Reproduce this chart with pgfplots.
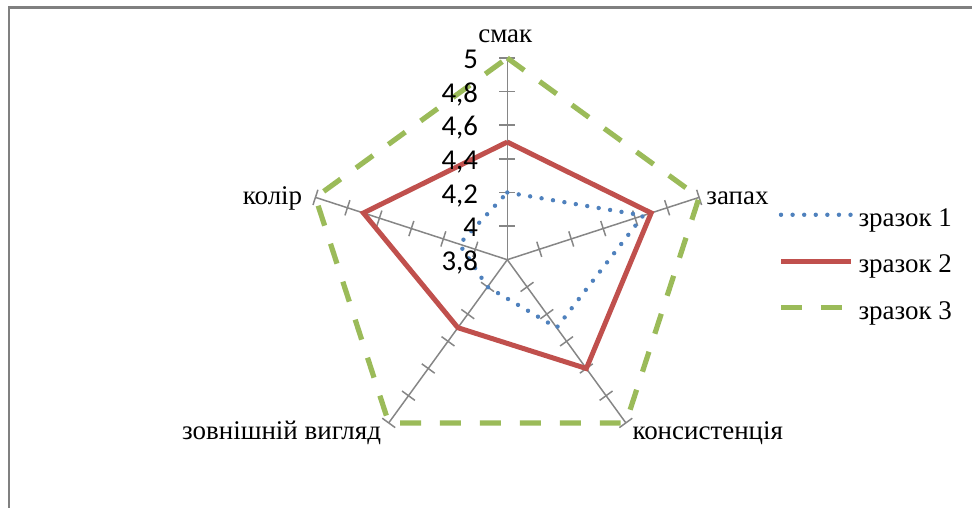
\documentclass[border=0pt]{standalone}
\usepackage{fontspec}
\setmainfont{Liberation Serif}
\newfontfamily\calibri{Carlito}
\usepackage{pgfplots}
\pgfplotsset{compat=1.18}
\usepackage{pgfplotstable}

\definecolor{s1}{HTML}{4F81BD}
\definecolor{s2}{HTML}{C0504D}
\definecolor{s3}{HTML}{9BBB59}
\definecolor{spoke}{HTML}{868686}
\definecolor{frame}{HTML}{808080}

% a = direction of the spoke (deg), v = score
\pgfplotstableread{
a v
90 4.2
18 4.65
-54 4.3
-126 4.0
-198 4.1
90 4.2
}\zrazokA
\pgfplotstableread{
a v
90 4.5
18 4.7
-54 4.6
-126 4.3
-198 4.7
90 4.5
}\zrazokB
\pgfplotstableread{
a v
90 5
18 5
-54 5
-126 5
-198 5
90 5
}\zrazokC

\begin{document}
\begin{tikzpicture}
\begin{axis}[
  scale only axis,
  width=486.5pt, height=254.5pt,
  xmin=-3.018, xmax=2.763,
  ymin=-1.479, ymax=1.545,
  hide axis, clip=false,
  legend style={draw=none, fill=none, at={(axis cs:1.575,0.338)}, anchor=north west,
    font=\fontsize{13.5}{15}\selectfont, row sep=10.75pt, column sep=2.5pt,
    nodes={inner sep=0pt, text height=9.5pt, text depth=3pt}},
  legend cell align=left,
  legend image code/.code={\draw[#1] (0pt,2.5pt) -- (35pt,2.5pt);},
]
\path (rel axis cs:0,0) rectangle (rel axis cs:1,1);
% chart frame (its right and bottom sides lie outside the picture)
\draw[frame, line width=1.3pt] (axis cs:2.763,1.5012) -- (axis cs:-2.9644,1.5012) -- (axis cs:-2.9644,-1.479);

% spokes with their ticks
\pgfplotsinvokeforeach{90,18,-54,-126,162}{
  \draw[spoke, line width=0.75pt] (axis cs:0,0) -- (axis cs:{1.2*cos(#1)},{1.2*sin(#1)});
  \draw[spoke, line width=0.75pt] \foreach \k in {1,...,6} {
    (axis cs:{0.2*\k*cos(#1)-0.0475*sin(#1)},{0.2*\k*sin(#1)+0.0475*cos(#1)}) --
    (axis cs:{0.2*\k*cos(#1)+0.0475*sin(#1)},{0.2*\k*sin(#1)-0.0475*cos(#1)})};
}

\addplot[s1, line width=2.2pt, line cap=round, dash pattern=on 0pt off 5.8pt]
  table[x expr={(\thisrow{v}-3.8)*cos(\thisrow{a})}, y expr={(\thisrow{v}-3.8)*sin(\thisrow{a})}] {\zrazokA};
\addlegendentry{зразок 1}
\addplot[s2, line width=2.5pt, line join=miter]
  table[x expr={(\thisrow{v}-3.8)*cos(\thisrow{a})}, y expr={(\thisrow{v}-3.8)*sin(\thisrow{a})}] {\zrazokB};
\addlegendentry{зразок 2}
\addplot[s3, line width=2.6pt, dash pattern=on 10.5pt off 9.5pt]
  table[x expr={(\thisrow{v}-3.8)*cos(\thisrow{a})}, y expr={(\thisrow{v}-3.8)*sin(\thisrow{a})}] {\zrazokC};
\addlegendentry{зразок 3}

% radial tick labels
\begin{scope}[every node/.style={anchor=base east, inner sep=0pt, font=\calibri\fontsize{14.4}{16}\selectfont}]
\node at (axis cs:-0.1723,-0.063) {3,8};
\node at (axis cs:-0.1723,0.137) {4};
\node at (axis cs:-0.1723,0.337) {4,2};
\node at (axis cs:-0.1723,0.537) {4,4};
\node at (axis cs:-0.1723,0.737) {4,6};
\node at (axis cs:-0.1723,0.937) {4,8};
\node at (axis cs:-0.1723,1.137) {5};
\end{scope}

% category labels
\begin{scope}[every node/.style={inner sep=0pt, font=\fontsize{13.5}{15}\selectfont}]
\node[anchor=base] at (axis cs:-0.012,1.2948) {смак};
\node[anchor=base west] at (axis cs:1.182,0.3267) {запах};
\node[anchor=base west] at (axis cs:0.7426,-1.0693) {консистенція};
\node[anchor=base east] at (axis cs:-0.7485,-1.0693) {зовнішній вигляд};
\node[anchor=base east] at (axis cs:-1.2178,0.3267) {колір};
\end{scope}
\end{axis}
\end{tikzpicture}
\end{document}
